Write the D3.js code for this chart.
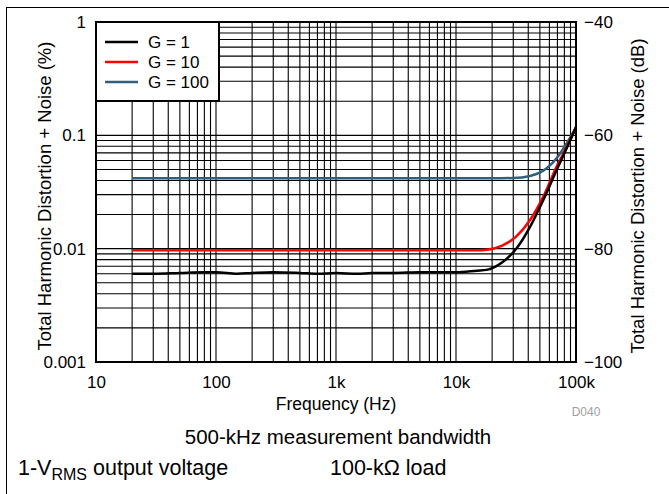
<!DOCTYPE html>
<html><head><meta charset="utf-8">
<script src="https://cdn.jsdelivr.net/npm/d3@7"></script>
<style>
html,body{margin:0;padding:0;background:#fff;}
text{font-family:"Liberation Sans",Arial,Helvetica,sans-serif;}
</style></head>
<body>
<svg id="c" width="669" height="494"></svg>
<script>
// ---- data ----
const freqG1   = [20,30,50,80,100,150,200,300,500,700,1000,1500,2000,3000,5000,8000,10000,15000,18000,24000,32000,41400,53400,69000,83600,100000];
const thdG1    = [0.0060,0.0060,0.0061,0.0062,0.0062,0.0060,0.0061,0.0062,0.0061,0.0060,0.0061,0.0060,0.0061,0.0061,0.0062,0.0062,0.0062,0.0064,0.0065,0.0075,0.0101,0.0156,0.0269,0.0494,0.0768,0.118];
const freqG10  = [20,50,100,200,500,1000,2000,5000,10000,15000,18000,24000,32000,41400,53400,69000,83600,100000];
const thdG10   = [0.0097,0.0097,0.0097,0.0097,0.0097,0.0097,0.0097,0.0097,0.0097,0.0097,0.0098,0.0106,0.0129,0.0179,0.0288,0.053,0.079,0.118];
const freqG100 = [20,50,100,200,500,1000,2000,5000,10000,20000,30000,41400,57000,69000,83600,100000];
const thdG100  = [0.0418,0.0418,0.0419,0.0419,0.0419,0.0419,0.0418,0.0418,0.0418,0.0418,0.0420,0.0438,0.0512,0.0627,0.085,0.118];
const seriesNames  = ["G = 1","G = 10","G = 100"];
const seriesColors = ["#000000","#ff0000","#2f5f7a"];
const xTickValues = [10,100,1000,10000,100000];
const xTickLabels = ["10","100","1k","10k","100k"];
const yTickValues = [0.001,0.01,0.1,1];
const yTickLabels = ["0.001","0.01","0.1","1"];
const dbTickValues = [-100,-80,-60,-40];

// ---- layout ----
const L=96, R=576, T=22, B=362;
const svg=d3.select("#c");
const x=d3.scaleLog().domain([10,100000]).range([L,R]);
const y=d3.scaleLog().domain([0.001,1]).range([B,T]);
const yDb=d3.scaleLinear().domain([-100,-40]).range([B,T]);

// outer frame
svg.append("line").attr("x1",6).attr("x2",669).attr("y1",7.5).attr("y2",7.5).attr("stroke","#000").attr("stroke-width",1);
svg.append("line").attr("x1",6.5).attr("x2",6.5).attr("y1",7).attr("y2",494).attr("stroke","#000").attr("stroke-width",1);

// grid
const xGrid=[], yGrid=[];
for(let d=10; d<100000; d*=10) for(let k=1;k<10;k++){ xGrid.push(d*k); }
for(let d=0.001; d<0.99; d*=10) for(let k=1;k<10;k++){ yGrid.push(d*k); }
const g=svg.append("g");
g.selectAll(".vg").data(xGrid).enter().append("line")
 .attr("x1",d=>x(d)).attr("x2",d=>x(d)).attr("y1",T).attr("y2",B)
 .attr("stroke","#000").attr("stroke-width",1.1);
g.selectAll(".hg").data(yGrid).enter().append("line")
 .attr("y1",d=>y(d)).attr("y2",d=>y(d)).attr("x1",L).attr("x2",R)
 .attr("stroke","#000").attr("stroke-width",1.1);

// series
const series=[[freqG1,thdG1],[freqG10,thdG10],[freqG100,thdG100]];
const line=d3.line().x(d=>x(d[0])).y(d=>y(d[1])).curve(d3.curveMonotoneX);
[2,1,0].forEach(i=>{
  const pts=series[i][0].map((f,j)=>[f,series[i][1][j]]);
  svg.append("path").datum(pts).attr("d",line).attr("fill","none")
   .attr("stroke",seriesColors[i]).attr("stroke-width",2.5).attr("stroke-linejoin","round");
});

// plot border
svg.append("rect").attr("x",L).attr("y",T).attr("width",R-L).attr("height",B-T)
 .attr("fill","none").attr("stroke","#000").attr("stroke-width",2);

// axes
const fs=17;
const xAxis=d3.axisBottom(x).tickValues(xTickValues).tickFormat((d,i)=>xTickLabels[i]).tickSize(0).tickPadding(0);
const xa=svg.append("g").attr("transform",`translate(0,${B})`).call(xAxis);
xa.select(".domain").remove();
xa.selectAll("text").attr("y",26).attr("dy",0).attr("font-size",fs).attr("fill","#000").attr("font-family","Liberation Sans, Arial, sans-serif");

const yAxis=d3.axisLeft(y).tickValues(yTickValues).tickFormat((d,i)=>yTickLabels[i]).tickSize(0).tickPadding(10);
const ya=svg.append("g").attr("transform",`translate(${L},0)`).call(yAxis);
ya.select(".domain").remove();
ya.selectAll("text").attr("font-size",fs).attr("fill","#000").attr("font-family","Liberation Sans, Arial, sans-serif");

const yAxisR=d3.axisRight(yDb).tickValues(dbTickValues).tickFormat(d3.format("d")).tickSize(0).tickPadding(8);
const yr=svg.append("g").attr("transform",`translate(${R},0)`).call(yAxisR);
yr.select(".domain").remove();
yr.selectAll("text").attr("font-size",fs).attr("fill","#000").attr("font-family","Liberation Sans, Arial, sans-serif");

// axis titles
svg.append("text").attr("transform",`translate(51,${(T+B)/2+4}) rotate(-90)`).attr("text-anchor","middle")
 .attr("font-size",18.5).text("Total Harmonic Distortion + Noise (%)");
svg.append("text").attr("transform",`translate(644,${(T+B)/2+4}) rotate(-90)`).attr("text-anchor","middle")
 .attr("font-size",18.5).text("Total Harmonic Distortion + Noise (dB)");
svg.append("text").attr("x",(L+R)/2).attr("y",410).attr("text-anchor","middle").attr("font-size",17.5).text("Frequency (Hz)");
svg.append("text").attr("x",586).attr("y",416).attr("text-anchor","middle").attr("font-size",12).attr("fill","#a0a0a0").text("D040");

// legend
svg.append("rect").attr("x",L).attr("y",T).attr("width",123).attr("height",79)
 .attr("fill","#fff").attr("stroke","#000").attr("stroke-width",2);
seriesNames.forEach((n,i)=>{
  const yy=42+i*20;
  svg.append("line").attr("x1",105).attr("x2",138).attr("y1",yy).attr("y2",yy)
   .attr("stroke",seriesColors[i]).attr("stroke-width",2.5);
  svg.append("text").attr("x",148).attr("y",yy).attr("dy","0.35em").attr("font-size",fs).text(n);
});

// notes
svg.append("text").attr("x",338).attr("y",444).attr("text-anchor","middle").attr("font-size",20.5).text("500-kHz measurement bandwidth");
const n1=svg.append("text").attr("x",18).attr("y",475).attr("font-size",21.5);
n1.append("tspan").text("1-V");
n1.append("tspan").attr("font-size",16).attr("dy",5).text("RMS");
n1.append("tspan").attr("dy",-5).text(" output voltage");
svg.append("text").attr("x",330).attr("y",475).attr("font-size",21.5).text("100-k\u03A9 load");
</script>
</body></html>
